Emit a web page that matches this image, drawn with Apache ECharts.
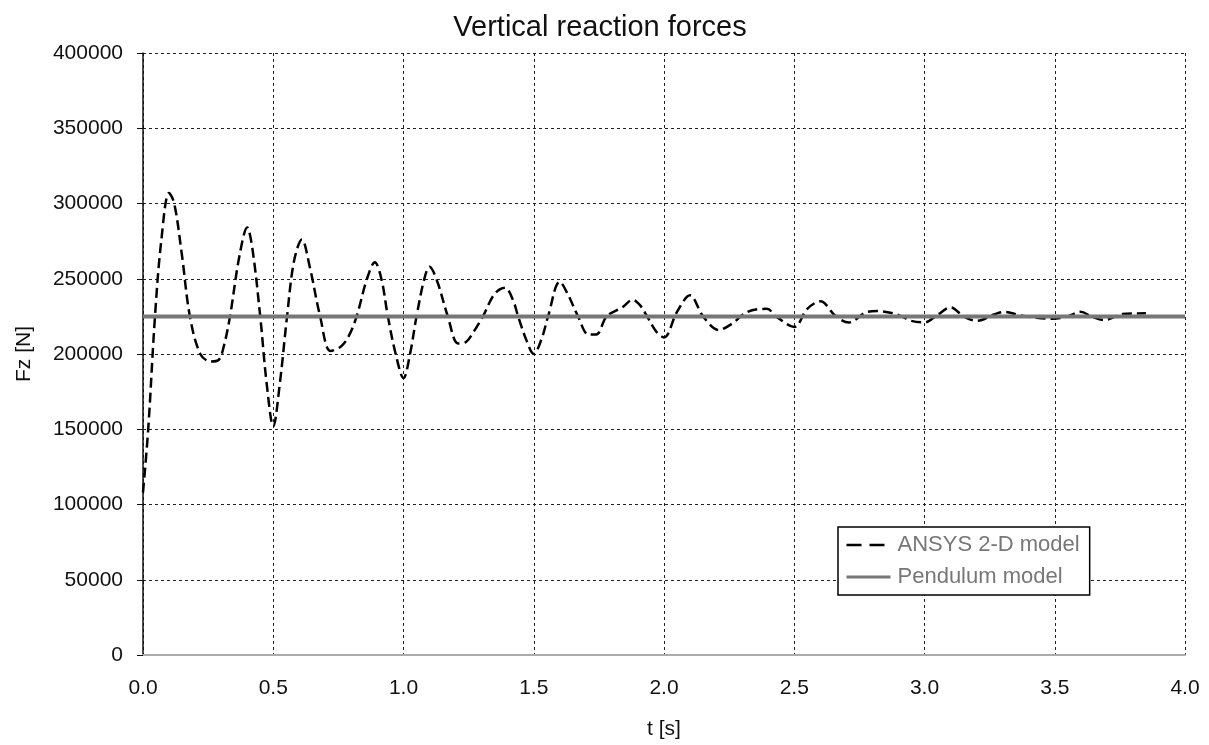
<!DOCTYPE html>
<html>
<head>
<meta charset="utf-8">
<script src="https://cdn.jsdelivr.net/npm/echarts@6/dist/echarts.min.js"></script>
<style>html,body{margin:0;padding:0;background:#fff}#c{width:1209px;height:745px}</style>
</head>
<body>
<div id="c"></div>
<script>
const timeS = [0,0.02,0.046,0.07,0.1,0.12,0.15,0.18,0.22,0.26,0.29,0.31,0.334,0.37,0.40,0.42,0.45,0.475,0.5,0.525,0.553,0.58,0.61,0.64,0.68,0.72,0.76,0.79,0.82,0.86,0.89,0.915,0.94,0.97,1.0,1.025,1.05,1.08,1.10,1.13,1.17,1.21,1.24,1.27,1.305,1.35,1.39,1.42,1.44,1.47,1.50,1.53,1.555,1.60,1.63,1.67,1.71,1.74,1.78,1.84,1.88,1.91,1.935,1.97,2.0,2.05,2.10,2.15,2.21,2.26,2.32,2.395,2.43,2.50,2.55,2.60,2.66,2.71,2.78,2.82,2.89,2.95,3.0,3.05,3.10,3.15,3.20,3.27,3.31,3.36,3.43,3.49,3.55,3.60,3.64,3.69,3.76,3.85];
const ansysFz = [108000,150000,225000,275000,307000,300000,265000,225000,200000,195000,196000,205000,225000,265000,284000,270000,225000,180000,152000,180000,225000,262000,276000,258000,225000,202000,205000,212000,225000,250000,261000,250000,225000,200000,184000,200000,225000,250000,258000,248000,225000,207000,208000,215000,225000,240000,244000,236000,225000,210000,200000,210000,225000,248000,240000,225000,213000,213000,225000,231000,236000,232000,225000,215000,211000,228000,239000,225000,216000,220000,228000,230000,225000,218000,230000,235000,225000,221000,228000,228500,226500,222000,221000,226000,231000,225000,222000,226500,228000,226000,224000,223500,225000,228000,225000,222500,226500,227000];
const pendulumT = [0, 4];
const pendulumFz = [225000, 225000];
const seriesNames = ['ANSYS 2-D model', 'Pendulum model'];

const ansysData = timeS.map((t, i) => [t, ansysFz[i]]);
const pendData = pendulumT.map((t, i) => [t, pendulumFz[i]]);

const chart = echarts.init(document.getElementById('c'), null, {renderer: 'canvas'});
const font = 'Liberation Sans, Arial, sans-serif';
chart.setOption({
  backgroundColor: '#fff',
  animation: false,
  textStyle: {fontFamily: font},
  title: {
    text: 'Vertical reaction forces',
    left: 595, top: 8, textAlign: 'center',
    textStyle: {fontFamily: font, fontSize: 29, fontWeight: 'normal', color: '#111'}
  },
  grid: {left: 143, right: 24, top: 53, bottom: 88, containLabel: false},
  legend: {
    orient: 'vertical',
    left: 838, top: 527,
    width: 262,
    padding: [7, 10, 7, 7],
    itemGap: 10,
    itemWidth: 44, itemHeight: 14,
    borderColor: '#000', borderWidth: 1.5,
    backgroundColor: '#fff',
    itemStyle: {opacity: 0},
    textStyle: {fontFamily: font, fontSize: 22, color: '#777', padding: [0, 0, 0, 2]},
    data: [
      {name: seriesNames[0], lineStyle: {color: '#000', width: 2.5, type: [15, 8]}},
      {name: seriesNames[1], lineStyle: {color: '#777', width: 3}}
    ]
  },
  xAxis: {
    type: 'value', min: 0, max: 4, interval: 0.5,
    name: 't [s]', nameLocation: 'middle', nameGap: 64,
    nameTextStyle: {fontFamily: font, fontSize: 21, color: '#111'},
    axisLine: {show: true, onZero: false, lineStyle: {color: '#aaa', width: 2}},
    axisTick: {show: false},
    axisLabel: {margin: 23, fontSize: 21, color: '#111', formatter: v => v.toFixed(1)},
    splitLine: {show: true, lineStyle: {color: '#222', type: [3, 3], width: 1}}
  },
  yAxis: {
    type: 'value', min: 0, max: 400000, interval: 50000,
    name: 'Fz [N]', nameLocation: 'middle', nameGap: 108, nameRotate: 90,
    nameTextStyle: {fontFamily: font, fontSize: 21, color: '#111'},
    axisLine: {show: true, lineStyle: {color: '#111', width: 1.5}},
    axisTick: {show: true, length: 6, lineStyle: {color: '#111'}},
    axisLabel: {margin: 20, fontSize: 21, color: '#111', formatter: v => String(v)},
    splitLine: {show: true, lineStyle: {color: '#222', type: [3, 3], width: 1}}
  },
  series: [
    {
      name: seriesNames[0], type: 'line', data: ansysData,
      symbol: 'none', smooth: 0.35, z: 3,
      lineStyle: {color: '#000', width: 2.5, type: [10, 5]},
      itemStyle: {color: '#000'}
    },
    {
      name: seriesNames[1], type: 'line', data: pendData,
      symbol: 'none', z: 4,
      lineStyle: {color: '#777', width: 4},
      itemStyle: {color: '#777'}
    }
  ]
});
</script>
</body>
</html>
